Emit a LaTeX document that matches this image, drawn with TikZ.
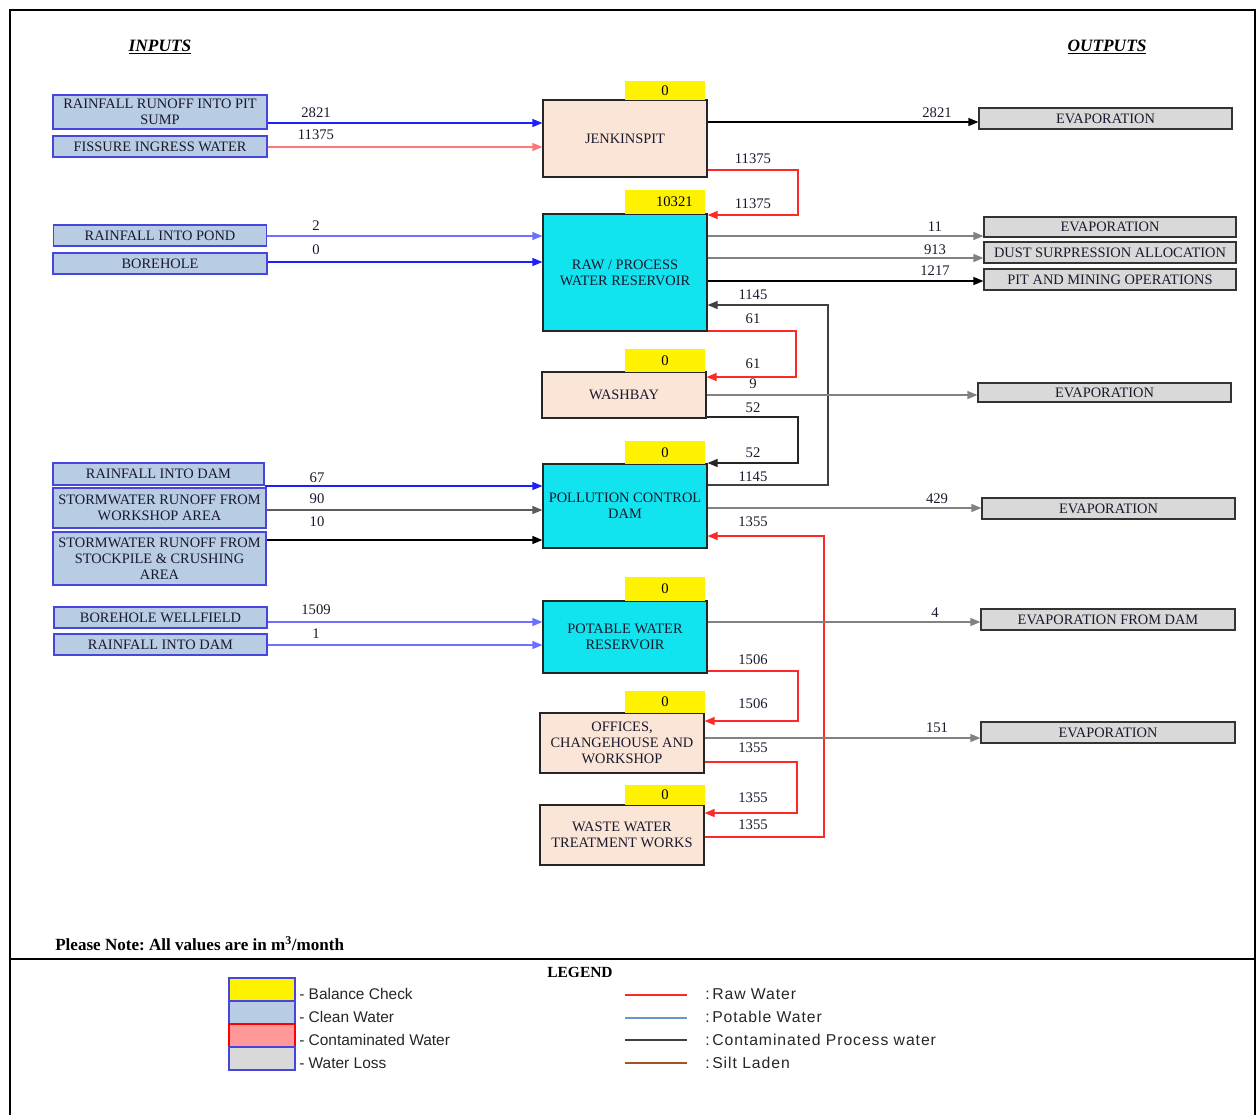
\documentclass[tikz,border=0pt]{standalone}
\usepackage{fontspec}
\setmainfont{Liberation Serif}
\newfontfamily\legendfont{Liberation Sans}
\newfontfamily\legendfontb[LetterSpace=6]{Liberation Sans}
\usetikzlibrary{arrows.meta}
\frenchspacing
\definecolor{cyanbox}{RGB}{17,227,239}
\definecolor{peach}{RGB}{251,229,214}
\definecolor{inblue}{RGB}{184,204,228}
\definecolor{inborder}{RGB}{70,70,220}
\definecolor{lossgrey}{RGB}{217,217,217}
\definecolor{boxtext}{RGB}{25,25,45}
\definecolor{blueA}{RGB}{30,30,255}
\definecolor{blueB}{RGB}{110,110,255}
\definecolor{redA}{RGB}{255,40,40}
\definecolor{redB}{RGB}{255,120,120}
\definecolor{greyline}{RGB}{130,130,130}
\definecolor{contfill}{RGB}{255,153,153}
\definecolor{potline}{RGB}{100,150,210}
\definecolor{siltline}{RGB}{160,82,45}
\newcommand\boxfont{\fontsize{10.8}{11.8}\selectfont}
\newcommand\numfont{\fontsize{11}{12}\selectfont}
\newcommand\legfont{\legendfont\fontsize{11.6}{14}\selectfont}
\newcommand\legfontr{\legendfontb\fontsize{11.8}{14}\selectfont}
\begin{document}
\begin{tikzpicture}[x=0.75pt,y=-0.75pt,
  sz/.style 2 args={minimum width=#1*0.75pt, minimum height=#2*0.75pt},
  box/.style={draw, line width=0.9pt, inner sep=0.5pt, align=center, font=\boxfont, text=boxtext},
  inbox/.style={box, fill=inblue, draw=inborder},
  outbox/.style={box, fill=lossgrey, draw=black!80},
  procbox/.style={box, fill=peach, draw=black!85},
  resbox/.style={box, fill=cyanbox, draw=black!85},
  balbox/.style={fill=yellow, inner sep=0pt, font=\numfont},
  flow/.style={line width=0.9pt, -{Triangle[length=7.5pt,width=6pt]}},
  num/.style={font=\numfont, inner sep=0pt, text=boxtext},
  legbox/.style={line width=0.9pt, minimum width=66*0.75pt, minimum height=23*0.75pt, inner sep=0pt},
  leglabel/.style={font=\legfont, anchor=west, inner sep=0pt, text=black!85},
  leglabelr/.style={font=\legfontr, anchor=west, inner sep=0pt, text=black!85}
]
\useasboundingbox (0,0) rectangle (1259,1115);
% frame
\draw[line width=2.2pt] (10,1115) -- (10,10) -- (1255,10) -- (1255,1115);
\draw[line width=2.2pt] (10,959) -- (1255,959);

% headings
\node[font=\fontsize{13}{14}\selectfont] (hin) at (160,47) {\underline{\textbf{\textit{INPUTS}}}};
\node[font=\fontsize{13}{14}\selectfont] (hout) at (1107,47) {\underline{\textbf{\textit{OUTPUTS}}}};

% input boxes
\node[inbox, sz={214}{34}] (in1) at (160,112) {RAINFALL RUNOFF INTO PIT\\SUMP};
\node[inbox, sz={214}{21}] (in2) at (160,146.5) {FISSURE INGRESS WATER};
\node[inbox, sz={213}{21}] (in3) at (160,235.5) {RAINFALL INTO POND};
\node[inbox, sz={214}{21}] (in4) at (160,263.5) {BOREHOLE};
\node[inbox, sz={211}{22}] (in5) at (158.5,474) {RAINFALL INTO DAM};
\node[inbox, sz={213}{40}] (in6) at (159.5,508) {STORMWATER RUNOFF FROM\\WORKSHOP AREA};
\node[inbox, sz={213}{53}] (in7) at (159.5,558.5) {STORMWATER RUNOFF FROM\\STOCKPILE \& CRUSHING\\AREA};
\node[inbox, sz={213}{21}] (in8) at (160.5,617.5) {BOREHOLE WELLFIELD};
\node[inbox, sz={213}{21}] (in9) at (160.5,644.5) {RAINFALL INTO DAM};

% central boxes
\node[procbox, sz={164}{77}] (jp) at (625,138.5) {JENKINSPIT};
\node[resbox, sz={164}{117}] (raw) at (625,272.5) {RAW / PROCESS\\WATER RESERVOIR};
\node[procbox, sz={164}{46}] (wb) at (624,395) {WASHBAY};
\node[resbox, sz={164}{84}] (pcd) at (625,506) {POLLUTION CONTROL\\DAM};
\node[resbox, sz={164}{72}] (pot) at (625,637) {POTABLE WATER\\RESERVOIR};
\node[procbox, sz={164}{60}] (off) at (622,743) {OFFICES,\\CHANGEHOUSE AND\\WORKSHOP};
\node[procbox, sz={164}{60}] (ww) at (622,835) {WASTE WATER\\TREATMENT WORKS};

% balance checks
\node[balbox, sz={80}{19}] (bjp) at (665,90.5) {0};
\node[balbox, sz={80}{24}] (braw) at (665,202) {\hspace{14pt}10321};
\node[balbox, sz={80}{23}] (bwb) at (665,360.5) {0};
\node[balbox, sz={80}{23}] (bpcd) at (665,452.5) {0};
\node[balbox, sz={80}{24}] (bpot) at (665,589) {0};
\node[balbox, sz={80}{22}] (boff) at (665,702) {0};
\node[balbox, sz={80}{20}] (bww) at (665,795) {0};

% output boxes
\node[outbox, sz={253}{21}] (o1) at (1105.5,118.5) {EVAPORATION};
\node[outbox, sz={252}{20}] (o2) at (1110,227) {EVAPORATION};
\node[outbox, sz={252}{21}] (o3) at (1110,252.5) {DUST SURPRESSION ALLOCATION};
\node[outbox, sz={252}{21}] (o4) at (1110,279.5) {PIT AND MINING OPERATIONS};
\node[outbox, sz={253}{19}] (o5) at (1104.5,392.5) {EVAPORATION};
\node[outbox, sz={253}{21}] (o6) at (1108.5,508.5) {EVAPORATION};
\node[outbox, sz={254}{21}] (o7) at (1108,619.5) {EVAPORATION FROM DAM};
\node[outbox, sz={254}{21}] (o8) at (1108,732.5) {EVAPORATION};

% connectors
\draw[flow, blueA] (in1.east |- 0,123) -- (jp.west |- 0,123);
\draw[flow, redB] (in2.east |- 0,147) -- (jp.west |- 0,147);
\draw[flow, black] (jp.east |- 0,122) -- (o1.west |- 0,122);
\draw[flow, redA] (jp.east |- 0,170) -- (798,170) -- (798,215) -- (raw.east |- 0,215);
\draw[flow, blueB] (in3.east |- 0,236) -- (raw.west |- 0,236);
\draw[flow, blueA] (in4.east |- 0,262) -- (raw.west |- 0,262);
\draw[flow, greyline] (raw.east |- 0,236) -- (o2.west |- 0,236);
\draw[flow, greyline] (raw.east |- 0,258) -- (o3.west |- 0,258);
\draw[flow, black] (raw.east |- 0,281) -- (o4.west |- 0,281);
\draw[flow, black!75] (pcd.east |- 0,485) -- (828,485) -- (828,305) -- (raw.east |- 0,305);
\draw[flow, redA] (raw.east |- 0,331) -- (796,331) -- (796,377) -- (wb.east |- 0,377);
\draw[flow, greyline] (wb.east |- 0,395) -- (o5.west |- 0,395);
\draw[flow, black!85] (wb.east |- 0,417) -- (798,417) -- (798,463) -- (pcd.east |- 0,463);
\draw[flow, blueA] (in5.east |- 0,486) -- (pcd.west |- 0,486);
\draw[flow, greyline!70!black] (in6.east |- 0,510) -- (pcd.west |- 0,510);
\draw[flow, black] (in7.east |- 0,540) -- (pcd.west |- 0,540);
\draw[flow, greyline] (pcd.east |- 0,508) -- (o6.west |- 0,508);
\draw[flow, redA] (ww.east |- 0,837) -- (824,837) -- (824,536) -- (pcd.east |- 0,536);
\draw[flow, blueB] (in8.east |- 0,622) -- (pot.west |- 0,622);
\draw[flow, blueB] (in9.east |- 0,645) -- (pot.west |- 0,645);
\draw[flow, greyline] (pot.east |- 0,622) -- (o7.west |- 0,622);
\draw[flow, redA] (pot.east |- 0,671) -- (798,671) -- (798,721) -- (off.east |- 0,721);
\draw[flow, greyline] (off.east |- 0,738) -- (o8.west |- 0,738);
\draw[flow, redA] (off.east |- 0,762) -- (797,762) -- (797,813) -- (ww.east |- 0,813);

% flow values
\node[num] (n1) at (316,113) {2821};
\node[num] (n2) at (316,135) {11375};
\node[num] (n3) at (316,226) {2};
\node[num] (n4) at (316,250) {0};
\node[num] (n5) at (317,478) {67};
\node[num] (n6) at (317,499) {90};
\node[num] (n7) at (317,522) {10};
\node[num] (n8) at (316,610) {1509};
\node[num] (n9) at (316,634) {1};
\node[num] (m1) at (753,159) {11375};
\node[num] (m2) at (753,204) {11375};
\node[num] (m3) at (753,295) {1145};
\node[num] (m4) at (753,319) {61};
\node[num] (m5) at (753,364) {61};
\node[num] (m6) at (753,384) {9};
\node[num] (m7) at (753,408) {52};
\node[num] (m8) at (753,453) {52};
\node[num] (m9) at (753,477) {1145};
\node[num] (m10) at (753,522) {1355};
\node[num] (m11) at (753,660) {1506};
\node[num] (m12) at (753,704) {1506};
\node[num] (m13) at (753,748) {1355};
\node[num] (m14) at (753,798) {1355};
\node[num] (m15) at (753,825) {1355};
\node[num] (r1) at (937,113) {2821};
\node[num] (r2) at (935,227) {11};
\node[num] (r3) at (935,250) {913};
\node[num] (r4) at (935,271) {1217};
\node[num] (r5) at (937,499) {429};
\node[num] (r6) at (935,613) {4};
\node[num] (r7) at (937,728) {151};

% note
\node[anchor=west, inner sep=0pt, font=\fontsize{12.8}{14}\selectfont\bfseries] (note) at (55,944) {Please Note: All values are in m\textsuperscript{3}/month};

% legend
\node[font=\fontsize{11.6}{13}\selectfont\bfseries, inner sep=0pt] (leg) at (580,972) {LEGEND};
\node[legbox, fill=yellow, draw=inborder] (lg1) at (262,989.5) {};
\node[legbox, fill=inblue, draw=inborder] (lg2) at (262,1012.5) {};
\node[legbox, fill=contfill, draw=red] (lg3) at (262,1035.5) {};
\node[legbox, fill=lossgrey, draw=inborder] (lg4) at (262,1058.5) {};
\node[leglabel] (lt1) at (299,994) {- Balance Check};
\node[leglabel] (lt2) at (299,1017) {- Clean Water};
\node[leglabel] (lt3) at (299,1040) {- Contaminated Water};
\node[leglabel] (lt4) at (299,1063) {- Water Loss};
\coordinate (la1) at (625,995); \coordinate (lb1) at (687,995);
\coordinate (la2) at (625,1018); \coordinate (lb2) at (687,1018);
\coordinate (la3) at (625,1040); \coordinate (lb3) at (687,1040);
\coordinate (la4) at (625,1063); \coordinate (lb4) at (687,1063);
\draw[line width=1pt, redA] (la1) -- (lb1);
\draw[line width=1pt, potline] (la2) -- (lb2);
\draw[line width=1pt, black!75] (la3) -- (lb3);
\draw[line width=1pt, siltline] (la4) -- (lb4);
\node[leglabelr] (lr1) at (705,994) {:\,Raw Water};
\node[leglabelr] (lr2) at (705,1017) {:\,Potable Water};
\node[leglabelr] (lr3) at (705,1040) {:\,Contaminated Process water};
\node[leglabelr] (lr4) at (705,1063) {:\,Silt Laden};
\end{tikzpicture}
\end{document}
